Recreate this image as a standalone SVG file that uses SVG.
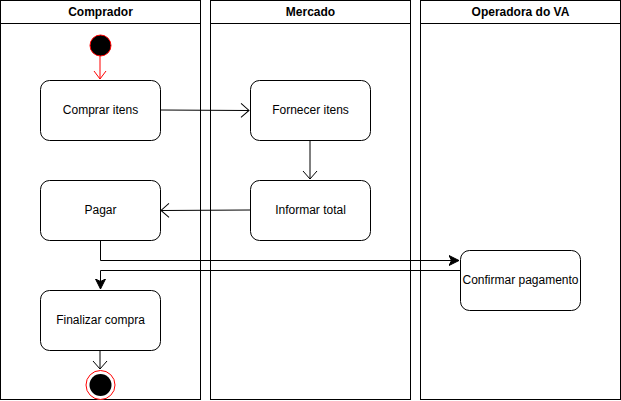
<svg xmlns="http://www.w3.org/2000/svg" width="621" height="401" viewBox="0 0 621 401">
<defs>
<style>
.lane{fill:#fff;stroke:#000;stroke-width:1}
.node{fill:#fff;stroke:#000;stroke-width:1}
.t{font-family:"Liberation Sans",Arial,sans-serif;font-size:12px;fill:#000;text-anchor:middle;dominant-baseline:central}
.h{font-weight:bold}
.e{fill:none;stroke:#000;stroke-width:1}
</style>
<marker id="open" markerWidth="10" markerHeight="16" refX="9" refY="8" orient="auto" markerUnits="userSpaceOnUse">
<path d="M1,1 L9,8 L1,15" fill="none" stroke="#000" stroke-width="1"/>
</marker>
<marker id="openr" markerWidth="10" markerHeight="14" refX="9" refY="7" orient="auto" markerUnits="userSpaceOnUse">
<path d="M1,1 L9,7 L1,13" fill="none" stroke="#ff0000" stroke-width="1"/>
</marker>
<marker id="block" markerWidth="12" markerHeight="12" refX="10" refY="6" orient="auto" markerUnits="userSpaceOnUse">
<path d="M0,1 L10,6 L0,11 L2.5,6 Z" fill="#000" stroke="#000" stroke-width="1"/>
</marker>
</defs>
<g id="lane-comprador">
<rect class="lane" x="0.5" y="0.5" width="200" height="399"/>
<line x1="0.5" y1="23.5" x2="200.5" y2="23.5" stroke="#000"/>
<text class="t h" x="100.5" y="12">Comprador</text>
</g>
<g id="lane-mercado">
<rect class="lane" x="210.5" y="0.5" width="200" height="399"/>
<line x1="210.5" y1="23.5" x2="410.5" y2="23.5" stroke="#000"/>
<text class="t h" x="310.5" y="12">Mercado</text>
</g>
<g id="lane-operadora">
<rect class="lane" x="420.5" y="0.5" width="200" height="399"/>
<line x1="420.5" y1="23.5" x2="620.5" y2="23.5" stroke="#000"/>
<text class="t h" x="520.5" y="12">Operadora do VA</text>
</g>
<g id="connectors">
<line x1="100" y1="56" x2="100" y2="79" stroke="#ff0000" fill="none" marker-end="url(#openr)"/>
<line class="e" x1="160" y1="110" x2="249" y2="110.5" marker-end="url(#open)"/>
<line class="e" x1="310" y1="140" x2="310" y2="179" marker-end="url(#open)"/>
<line class="e" x1="250" y1="210" x2="161" y2="210.5" marker-end="url(#open)"/>
<polyline class="e" points="100.5,240 100.5,260.5 459,260.5" marker-end="url(#block)"/>
<polyline class="e" points="460,270.5 100.5,270.5 100.5,289" marker-end="url(#block)"/>
<line class="e" x1="100" y1="350" x2="100" y2="369" marker-end="url(#open)"/>
</g>
<g id="start">
<circle cx="100.5" cy="45.5" r="10.5" fill="#000" stroke="#ff0000" stroke-width="1"/>
</g>
<g id="comprar-itens">
<rect class="node" x="40.5" y="80.5" width="120" height="60" rx="9"/>
<text class="t" x="100.5" y="110">Comprar itens</text>
</g>
<g id="fornecer-itens">
<rect class="node" x="250.5" y="80.5" width="120" height="60" rx="9"/>
<text class="t" x="310.5" y="110">Fornecer itens</text>
</g>
<g id="informar-total">
<rect class="node" x="250.5" y="180.5" width="120" height="60" rx="9"/>
<text class="t" x="310.5" y="210">Informar total</text>
</g>
<g id="pagar">
<rect class="node" x="40.5" y="180.5" width="120" height="60" rx="9"/>
<text class="t" x="100.5" y="210">Pagar</text>
</g>
<g id="confirmar-pagamento">
<rect class="node" x="460.5" y="250.5" width="120" height="60" rx="9"/>
<text class="t" x="520.5" y="280">Confirmar pagamento</text>
</g>
<g id="finalizar-compra">
<rect class="node" x="40.5" y="290.5" width="120" height="60" rx="9"/>
<text class="t" x="100.5" y="320">Finalizar compra</text>
</g>
<g id="end">
<circle cx="100.5" cy="385" r="14.5" fill="#fff" stroke="#ff0000" stroke-width="1"/>
<circle cx="100.5" cy="385" r="11" fill="#000" stroke="none"/>
</g>
</svg>
